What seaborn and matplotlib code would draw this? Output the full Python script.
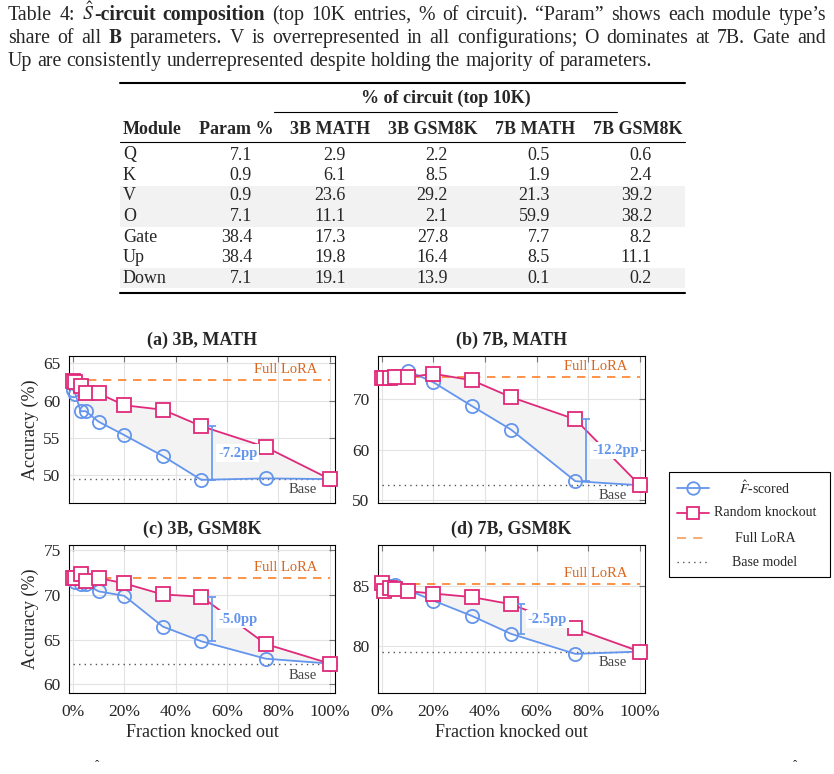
import matplotlib
matplotlib.use("Agg")
import matplotlib.pyplot as plt
import seaborn as sns
from matplotlib.lines import Line2D
from matplotlib.patches import Rectangle
from matplotlib.ticker import PercentFormatter

W, H = 834, 774

# ---- table data ----
modules = ["Q", "K", "V", "O", "Gate", "Up", "Down"]
param_pct = ["7.1", "0.9", "0.9", "7.1", "38.4", "38.4", "7.1"]
math_3b = ["2.9", "6.1", "23.6", "11.1", "17.3", "19.8", "19.1"]
gsm_3b = ["2.2", "8.5", "29.2", "2.1", "27.8", "16.4", "13.9"]
math_7b = ["0.5", "1.9", "21.3", "59.9", "7.7", "8.5", "0.1"]
gsm_7b = ["0.6", "2.4", "39.2", "38.2", "8.2", "11.1", "0.2"]
col_headers = ["Module", "Param %", "3B MATH", "3B GSM8K", "7B MATH", "7B GSM8K"]
shaded_rows = ["V", "O", "Down"]

# ---- knockout curves ----
x_frac = [0, 1, 3, 5, 10, 20, 35, 50, 75, 100]

a_fscored = [61.5, 60.9, 58.6, 58.6, 57.2, 55.4, 52.6, 49.4, 49.6, 49.5]
a_random = [62.7, 62.5, 62.0, 61.0, 61.0, 59.4, 58.8, 56.6, 53.8, 49.5]
a_full, a_base = 62.8, 49.5

b_fscored = [74.4, 74.2, 74.3, 74.6, 75.6, 73.3, 68.6, 64.0, 53.8, 53.0]
b_random = [74.2, 74.1, 74.2, 74.3, 74.3, 75.0, 73.7, 70.4, 66.0, 53.0]
b_full, b_base = 74.4, 53.0

c_fscored = [71.9, 71.5, 71.2, 71.2, 70.4, 69.9, 66.45, 64.8, 62.85, 62.3]
c_random = [71.9, 71.9, 72.3, 71.6, 71.9, 71.3, 70.05, 69.8, 64.5, 62.3]
c_full, c_base = 71.9, 62.2

d_fscored = [85.3, 85.0, 85.0, 85.1, 84.7, 83.8, 82.5, 81.0, 79.3, 79.5]
d_random = [85.3, 84.6, 84.9, 84.8, 84.6, 84.4, 84.1, 83.5, 81.45, 79.5]
d_full, d_base = 85.2, 79.5

titles = ["(a) 3B, MATH", "(b) 7B, MATH", "(c) 3B, GSM8K", "(d) 7B, GSM8K"]
gap_labels = ["-7.2pp", "-12.2pp", "-5.0pp", "-2.5pp"]
gap_at = [50, 75, 50, 50]
legend_labels = [r"$\hat{F}$-scored", "Random knockout", "Full LoRA", "Base model"]

BLUE = "#6495ed"
PINK = "#e0297a"
ORANGE = "#ff7f2a"

sns.set_theme(style="whitegrid")
plt.rcParams["font.family"] = ["Liberation Serif", "DejaVu Serif"]
plt.rcParams["mathtext.fontset"] = "stix"

fig = plt.figure(figsize=(W / 100, H / 100), dpi=100)
renderer = fig.canvas.get_renderer()


def fx(x):
    return x / W


def fy(y):
    return 1 - y / H


def draw_line(x0, y, words, size, width=None):
    """words: list of words, each a list of (text, bold) pieces; optionally justified"""
    drawn = []
    for w in words:
        parts = []
        for s, bold in w:
            t = fig.text(0, fy(y), s, fontsize=size, va="baseline", ha="left",
                         fontweight="bold" if bold else "normal")
            parts.append((t, t.get_window_extent(renderer).width))
        drawn.append(parts)
    total = sum(wp for parts in drawn for _, wp in parts)
    if width:
        gap = (width - total) / (len(drawn) - 1)
    else:
        gap = size * 100 / 72 * 0.25
    x = x0
    for parts in drawn:
        for t, wp in parts:
            t.set_x(fx(x))
            x += wp
        x += gap


def plain(s, bold=False):
    return [[(w, bold)] for w in s.split()]


# caption
csize = 14.3
line1 = plain("Table 4:") + [[(r"$\hat{S}$", False), ("-circuit", True)]] + plain("composition", True) \
    + plain("(top 10K entries, % of circuit). \u201cParam\u201d shows each module type\u2019s")
line2 = plain("share of all") + [[(r"$\mathbf{B}$", False)]] \
    + plain("parameters. V is overrepresented in all configurations; O dominates at 7B. Gate and")
line3 = plain("Up are consistently underrepresented despite holding the majority of parameters.")
draw_line(8, 20, line1, csize, width=818)
draw_line(8, 43, line2, csize, width=818)
draw_line(8, 66, line3, csize)

# table
tsize = 13
tab_left, tab_right = 120, 685
row_y0, row_dy = 155, 20.5
for i, m in enumerate(modules):
    if m in shaded_rows:
        yc = row_y0 + i * row_dy
        fig.add_artist(Rectangle((fx(tab_left), fy(yc + row_dy / 2)), fx(tab_right) - fx(tab_left),
                                 row_dy / H, facecolor="#f2f2f2", edgecolor="none"))

for yy, lw in [(83, 1.5), (142, 0.8), (293, 1.5)]:
    fig.add_artist(Line2D([fx(tab_left), fx(tab_right)], [fy(yy), fy(yy)], color="black", lw=lw))
fig.add_artist(Line2D([fx(274), fx(617)], [fy(112), fy(112)], color="black", lw=0.8))
fig.text(fx(446), fy(98), "% of circuit (top 10K)", fontsize=tsize, fontweight="bold", ha="center", va="center")

header_x = [123, 236, 330, 433, 535, 638]
value_right = [None, 252, 346, 448, 550, 652]
for j, h in enumerate(col_headers):
    fig.text(fx(header_x[j]), fy(129), h, fontsize=tsize, fontweight="bold",
             ha="left" if j == 0 else "center", va="center")

columns = [modules, param_pct, math_3b, gsm_3b, math_7b, gsm_7b]
for j, col in enumerate(columns):
    for i, v in enumerate(col):
        yc = row_y0 + i * row_dy
        if j == 0:
            fig.text(fx(header_x[0]), fy(yc), v, fontsize=tsize, ha="left", va="center")
        else:
            fig.text(fx(value_right[j]), fy(yc), v, fontsize=tsize, ha="right", va="center")

# panels
panels = [
    (a_fscored, a_random, a_full, a_base),
    (b_fscored, b_random, b_full, b_base),
    (c_fscored, c_random, c_full, c_base),
    (d_fscored, d_random, d_full, d_base),
]
boxes = [(69, 335, 356, 503), (378, 645, 356, 503), (69, 335, 545, 693), (378, 645, 545, 693)]
ylims = [(46.3, 66), (49.5, 78.5), (59.0, 75.6), (76.0, 88.5)]
yticks = [[50, 55, 60, 65], [50, 60, 70], [60, 65, 70, 75], [80, 85]]
bar_offset = 4

for k, (fs, rnd, full, base) in enumerate(panels):
    l, r, t, b = boxes[k]
    ax = fig.add_axes([fx(l), fy(b), (r - l) / W, (b - t) / H])
    ax.fill_between(x_frac, fs, rnd, color="#f3f3f3", zorder=1, lw=0)
    ax.plot([x_frac[0], x_frac[-1]], [full, full], ls=(0, (5, 4)), color=ORANGE, lw=1.2, zorder=2)
    ax.plot([x_frac[0], x_frac[-1]], [base, base], ls=(0, (1, 3)), color="#555555", lw=1.0, zorder=2)
    sns.lineplot(x=x_frac, y=fs, ax=ax, color=BLUE, marker="o", markersize=9.5,
                 markerfacecolor="none", markeredgecolor=BLUE, markeredgewidth=1.3, lw=1.3,
                 zorder=3, clip_on=False)
    sns.lineplot(x=x_frac, y=rnd, ax=ax, color=PINK, marker="s", markersize=9.5,
                 markerfacecolor="white", markeredgecolor=PINK, markeredgewidth=1.3, lw=1.3,
                 zorder=4, clip_on=False)

    gi = x_frac.index(gap_at[k])
    top, bot = rnd[gi], fs[gi]
    bx = gap_at[k] + bar_offset
    ax.errorbar([bx], [(top + bot) / 2], yerr=[(top - bot) / 2], color=BLUE, capsize=3,
                lw=1.2, capthick=1.2, zorder=5)
    ax.text(bx + 2.5, (top + bot) / 2, gap_labels[k], color=BLUE, fontweight="bold", fontsize=10.5,
            ha="left", va="center", zorder=6,
            bbox=dict(facecolor="white", edgecolor="none", pad=1.5))

    ax.annotate("Full LoRA", xy=(83, full), xytext=(0, 3), textcoords="offset points",
                ha="center", va="bottom", color="#d9661f", fontsize=10.5)
    ax.annotate("Base", xy=(95, base), xytext=(0, -3), textcoords="offset points",
                ha="right", va="top", color="#444444", fontsize=10.5)

    ax.set_xlim(-1.5, 102)
    ax.set_ylim(*ylims[k])
    ax.set_xticks([0, 20, 40, 60, 80, 100])
    ax.set_yticks(yticks[k])
    ax.xaxis.set_major_formatter(PercentFormatter(100, decimals=0))
    ax.grid(True, color="#e3e3e3", lw=0.8)
    for s in ax.spines.values():
        s.set_color("black")
        s.set_linewidth(0.8)
    ax.tick_params(direction="in", length=4, width=0.8, top=True, right=True,
                   color="#777777", labelsize=12.5)
    ax.tick_params(axis="x", pad=8)
    ax.tick_params(axis="y", pad=6)
    ax.set_title(titles[k], fontsize=13, fontweight="bold", pad=8)
    if k < 2:
        ax.tick_params(labelbottom=False)
        ax.set_xlabel("")
    else:
        ax.set_xlabel("Fraction knocked out", fontsize=13, labelpad=3)
    if k % 2 == 0:
        ax.set_ylabel("Accuracy (%)", fontsize=13, labelpad=3)
    else:
        ax.set_ylabel("")

# legend, drawn by hand so the labels can be centred like the original
fig.add_artist(Rectangle((fx(669), fy(577)), (830 - 669) / W, (577 - 472) / H,
                         facecolor="white", edgecolor="black", lw=0.8))
leg_y = [488, 513, 538, 562]
leg_styles = [
    dict(color=BLUE, lw=1.3, marker="o", markerfacecolor="none", markeredgewidth=1.3),
    dict(color=PINK, lw=1.3, marker="s", markerfacecolor="white", markeredgewidth=1.3),
    dict(color="#f6a66a", lw=1.3, ls=(0, (5, 4))),
    dict(color="#555555", lw=1.0, ls=(0, (1, 3))),
]
for yy, lab, st in zip(leg_y, legend_labels, leg_styles):
    mk = st.pop("marker", None)
    fig.add_artist(Line2D([fx(677), fx(709)], [fy(yy), fy(yy)], **{k2: v for k2, v in st.items()
                                                                    if k2 not in ("markerfacecolor", "markeredgewidth")}))
    if mk:
        fig.add_artist(Line2D([fx(693)], [fy(yy)], marker=mk, markersize=9, ls="none",
                              markeredgecolor=st["color"], markerfacecolor=st["markerfacecolor"],
                              markeredgewidth=st["markeredgewidth"]))
    fig.text(fx(765), fy(yy), lab, fontsize=10, ha="center", va="center")

# cut-off accents from the next line of the page
fig.text(fx(97), fy(766), "\u02c6", fontsize=9, ha="center", va="center")
fig.text(fx(795), fy(766), "\u02c6", fontsize=9, ha="center", va="center")

fig.savefig("out.png", dpi=100)
